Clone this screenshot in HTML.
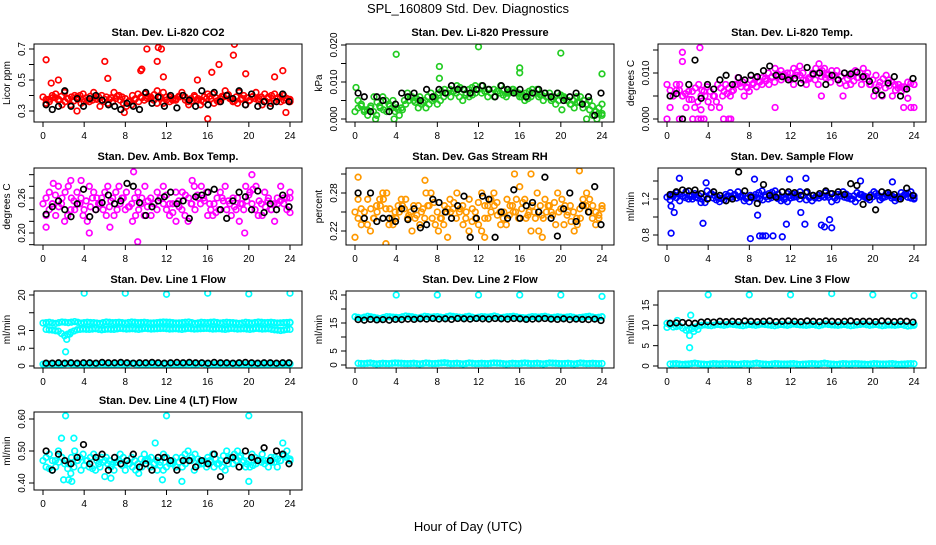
<!DOCTYPE html>
<html><head><meta charset="utf-8"><style>
body{margin:0;background:#fff}
svg text{font-family:"Liberation Sans",sans-serif;fill:#000}
.t{font-size:11px;font-weight:bold}
.k{font-size:10px}
</style></head><body>
<svg id="c" width="936" height="540" viewBox="0 0 936 540">
<text x="468" y="13" text-anchor="middle" font-size="13">SPL_160809  Std. Dev. Diagnostics</text>
<text x="468" y="531" text-anchor="middle" font-size="13">Hour of Day (UTC)</text>
</svg>
<script>
const xTicks=[0,4,8,12,16,20,24];
// ---- panel data ----
const co2A=[0.39,0.36,0.41,0.34,0.38,0.40,0.35,0.37,0.42,0.33,0.39,0.36,0.40,0.38,0.34,0.41,0.37,0.39,0.35,0.42,0.36,0.38,0.40,0.34,0.39,0.37,0.41,0.35,0.38,0.40,0.36,0.42,0.34,0.39,0.37,0.41,0.35,0.38,0.40,0.36];
const co2B=[0.35,0.40,0.37,0.42,0.34,0.39,0.41,0.36,0.38,0.40,0.35,0.42,0.37,0.33,0.40,0.36,0.41,0.38,0.43,0.35,0.39,0.37,0.42,0.36,0.40,0.34,0.38,0.41,0.36,0.43,0.38,0.35,0.40,0.37,0.42,0.34,0.39,0.41,0.36,0.38];
const co2Out=[[0.3,0.63],[6,0.62],[10.1,0.70],[11.2,0.71],[11.5,0.70],[11.1,0.62],[9.6,0.57],[18.6,0.73],[18.5,0.66],[23.3,0.56],[16,0.25],[17.1,0.6],[16.4,0.55],[6.3,0.51],[0.8,0.48],[1.5,0.50],[9.5,0.56],[19.7,0.54],[22.5,0.52],[23.6,0.29],[3.3,0.3],[7.9,0.29],[11.7,0.52],[15,0.5]];
const co2K=[0.34,0.31,0.33,0.43,0.33,0.38,0.33,0.38,0.40,0.37,0.34,0.33,0.31,0.35,0.33,0.31,0.42,0.35,0.39,0.33,0.40,0.32,0.40,0.37,0.33,0.43,0.34,0.42,0.36,0.40,0.38,0.43,0.34,0.41,0.33,0.36,0.33,0.36,0.41,0.36];
const prA=[0.002,0.004,0.001,0.006,0.003,0.002,0.005,0.001,0.004,0.006,0.003,0.005,0.007,0.004,0.006,0.008,0.007,0.005,0.008,0.009,0.007,0.008,0.006,0.009,0.007,0.008,0.006,0.007,0.008,0.006,0.007,0.005,0.007,0.006,0.004,0.006,0.003,0.005,0.002,0.001];
const prB=[0.005,0.002,0.003,0.001,0.006,0.004,0.002,0.003,0.007,0.005,0.006,0.003,0.005,0.007,0.008,0.006,0.009,0.008,0.006,0.007,0.009,0.006,0.008,0.007,0.006,0.008,0.007,0.005,0.006,0.008,0.005,0.007,0.004,0.006,0.005,0.003,0.006,0.004,0.001,0.003];
const prOut=[[0.1,0.0085],[4,0.0175],[8.2,0.0142],[8.2,0.0110],[12,0.0195],[16,0.0138],[16,0.0125],[20,0.0178],[24,0.0122],[2,0],[3.8,0],[22.5,0],[23.5,0],[20.1,0.0025]];
const prK=[0.007,0.006,0.002,0.006,0.005,0.002,0.004,0.007,0.006,0.007,0.005,0.008,0.006,0.008,0.007,0.009,0.008,0.008,0.007,0.008,0.009,0.008,0.006,0.009,0.008,0.007,0.008,0.006,0.007,0.008,0.007,0.006,0.007,0.005,0.006,0.007,0.004,0.006,0.001,0.007];
const tpA=[0.0075,0.005,0.0075,0.0025,0.006,0.0075,0.005,0.0025,0.0075,0.006,0.005,0.0075,0.008,0.006,0.009,0.0075,0.01,0.008,0.0105,0.009,0.011,0.0095,0.0075,0.01,0.012,0.009,0.0105,0.0085,0.01,0.0075,0.009,0.011,0.0075,0.0095,0.005,0.0085,0.0075,0.006,0.008,0.0075];
const tpB=[0.0025,0.0075,0.005,0.006,0.0025,0.005,0.007,0.005,0.0025,0.0075,0.006,0.009,0.005,0.0085,0.007,0.009,0.0075,0.011,0.0085,0.01,0.0075,0.0115,0.0085,0.0095,0.0075,0.011,0.008,0.0105,0.005,0.0095,0.0105,0.0075,0.01,0.005,0.008,0.0095,0.005,0.0075,0.0065,0.0025];
const tpOut=[[0,0],[1.2,0],[1.5,0],[2.5,0],[3,0],[3.3,0],[3.6,0],[5.5,0],[6,0],[6.2,0],[1.5,0.0145],[3.2,0.0155],[1.5,0.0125],[3.3,0.002],[23,0.0025],[10.5,0.0025],[15,0.005]];
const tpK=[0.005,0.0055,0.0,0.0075,0.0128,0.0045,0.0075,0.0065,0.0085,0.0095,0.0075,0.009,0.0085,0.0095,0.0092,0.0105,0.0115,0.0095,0.0092,0.0085,0.0088,0.0078,0.0112,0.0098,0.01,0.0075,0.0095,0.0085,0.01,0.0098,0.0102,0.0092,0.0082,0.0062,0.0052,0.0078,0.0092,0.005,0.0065,0.0088];
const abA=[0.25,0.27,0.23,0.26,0.28,0.24,0.26,0.22,0.27,0.25,0.23,0.26,0.28,0.24,0.25,0.27,0.23,0.26,0.24,0.28,0.25,0.22,0.27,0.26,0.24,0.28,0.23,0.25,0.27,0.24,0.26,0.22,0.28,0.25,0.23,0.27,0.24,0.26,0.25,0.27];
const abB=[0.23,0.25,0.28,0.22,0.24,0.27,0.23,0.28,0.24,0.26,0.28,0.23,0.25,0.27,0.22,0.24,0.28,0.23,0.27,0.25,0.23,0.27,0.24,0.22,0.28,0.25,0.27,0.23,0.24,0.28,0.23,0.26,0.24,0.27,0.28,0.23,0.26,0.22,0.28,0.24];
const abOut=[[0.3,0.21],[2.7,0.29],[3.7,0.29],[4.5,0.2],[8.8,0.305],[9.2,0.185],[14.5,0.29],[19.6,0.2],[20.3,0.3],[6.5,0.21],[1,0.285]];
const abK=[0.232,0.245,0.255,0.24,0.228,0.25,0.275,0.228,0.24,0.252,0.265,0.25,0.255,0.285,0.28,0.252,0.23,0.245,0.255,0.262,0.27,0.25,0.255,0.225,0.262,0.265,0.27,0.275,0.24,0.225,0.255,0.27,0.262,0.24,0.272,0.235,0.25,0.24,0.265,0.245];
const rhA=[0.25,0.23,0.27,0.24,0.26,0.28,0.23,0.25,0.27,0.22,0.26,0.24,0.28,0.25,0.23,0.27,0.24,0.26,0.22,0.25,0.28,0.24,0.26,0.23,0.27,0.25,0.29,0.24,0.26,0.22,0.27,0.25,0.28,0.23,0.26,0.24,0.27,0.25,0.23,0.26];
const rhB=[0.27,0.24,0.22,0.26,0.28,0.23,0.25,0.27,0.24,0.26,0.23,0.28,0.24,0.22,0.26,0.25,0.28,0.23,0.27,0.24,0.22,0.26,0.28,0.25,0.23,0.26,0.24,0.27,0.22,0.28,0.24,0.26,0.23,0.27,0.25,0.22,0.24,0.28,0.26,0.24];
const rhOut=[[0.3,0.305],[0,0.21],[3,0.20],[6.8,0.3],[12.6,0.21],[15.5,0.31],[17.1,0.31],[21.8,0.315],[9,0.21],[18.2,0.21]];
const rhK=[0.28,0.24,0.28,0.235,0.24,0.24,0.235,0.255,0.238,0.255,0.225,0.23,0.27,0.265,0.25,0.24,0.26,0.275,0.21,0.24,0.275,0.27,0.21,0.25,0.24,0.285,0.24,0.26,0.265,0.25,0.305,0.24,0.212,0.255,0.28,0.235,0.26,0.25,0.29,0.23];
const sfA=[1.22,1.25,1.18,1.28,1.2,1.24,1.16,1.26,1.22,1.19,1.27,1.21,1.24,1.17,1.25,1.29,1.2,1.23,1.18,1.26,1.22,1.28,1.19,1.24,1.21,1.27,1.17,1.25,1.22,1.2,1.27,1.23,1.19,1.26,1.21,1.24,1.18,1.27,1.22,1.2];
const sfB=[1.19,1.27,1.23,1.2,1.26,1.16,1.29,1.21,1.17,1.25,1.22,1.28,1.18,1.24,1.21,1.19,1.26,1.29,1.22,1.17,1.25,1.2,1.27,1.18,1.24,1.22,1.26,1.19,1.28,1.23,1.17,1.25,1.21,1.28,1.19,1.26,1.23,1.2,1.25,1.28];
const sfOut=[[0.4,0.82],[0.7,1.05],[3.5,0.93],[8.1,0.76],[9,0.79],[9.3,0.79],[9.6,0.79],[10.3,0.79],[11.2,0.78],[11.6,0.92],[13.4,0.92],[15,0.91],[15.3,0.89],[16,0.88],[15.8,0.97],[1.2,1.43],[3.8,1.38],[8.5,1.42],[11.9,1.42],[13.5,1.43],[18.8,1.4],[21.9,1.39],[8.8,1.02],[13,1.05],[0.4,1.12]];
const sfK=[1.25,1.28,1.3,1.29,1.3,1.26,1.2,1.28,1.24,1.18,1.2,1.5,1.29,1.22,1.15,1.36,1.24,1.22,1.28,1.28,1.27,1.24,1.28,1.24,1.26,1.29,1.26,1.28,1.25,1.37,1.35,1.14,1.22,1.08,1.28,1.27,1.25,1.2,1.32,1.24];
const l1A=[12.1,12.3,12.0,12.4,12.2,12.5,12.1,12.3,12.2,12.0,12.4,12.2,12.3,12.1,12.4,12.2,12.3,12.1,12.2,12.4,12.3,12.1,12.2,12.4,12.0,12.3,12.2,12.4,12.1,12.3,12.2,12.0,12.3,12.1,12.4,12.2,12.3,12.1,12.2,12.3];
const l1B=[10.3,10.1,9.8,8.5,9.5,10.2,10.4,10.3,10.5,10.2,10.4,10.3,10.6,10.4,10.5,10.3,10.6,10.4,10.5,10.6,10.4,10.5,10.3,10.6,10.4,10.5,10.6,10.4,10.5,10.3,10.6,10.4,10.5,10.3,10.6,10.4,10.5,10.2,10.0,10.3];
const l1Z=[0.5,0.6,0.4,0.5,0.7,0.5,0.4,0.6,0.5,0.6,0.5,0.4,0.6,0.5,0.7,0.5,0.4,0.6,0.5,0.5,0.6,0.4,0.5,0.6,0.5,0.7,0.5,0.4,0.6,0.5,0.6,0.5,0.4,0.6,0.5,0.5,0.6,0.4,0.5,0.6];
const l1Out=[[4,20.5],[8,20.5],[12,20.2],[16,20.5],[20,20.3],[24,20.5],[2.2,4],[2.3,7.5],[2.6,9],[0.2,0.3]];
const l1K=[0.8,0.8,0.9,0.8,0.9,0.8,0.9,0.9,0.8,1.0,0.9,0.9,1.0,0.9,0.8,0.9,0.9,1.0,0.9,0.8,0.9,1.0,0.9,1.0,0.9,0.9,0.8,1.0,0.9,0.9,0.8,0.9,1.0,0.9,0.8,0.9,0.9,0.8,0.9,0.9];
const l2A=[17.2,16.8,17.4,17.0,16.6,17.3,17.1,16.9,17.5,17.2,16.8,17.4,17.1,17.3,16.9,17.5,17.2,17.0,17.4,16.8,17.3,17.1,17.5,16.9,17.2,17.4,17.0,16.8,17.3,17.1,17.4,16.9,17.2,17.0,17.3,16.8,17.1,17.4,16.9,17.2];
const l2Z=[0.6,0.5,0.7,0.4,0.6,0.5,0.7,0.6,0.5,0.6,0.4,0.7,0.5,0.6,0.8,0.5,0.6,0.4,0.7,0.5,0.6,0.5,0.7,0.6,0.4,0.6,0.5,0.7,0.5,0.6,0.4,0.7,0.6,0.5,0.6,0.4,0.7,0.5,0.6,0.5];
const l2Out=[[4,25],[8,25],[12,25],[16,25],[20,25],[24,24.5]];
const l2K=[16.2,16.0,16.3,16.1,16.2,16.0,16.3,16.2,16.4,16.3,16.5,16.4,16.6,16.4,16.5,16.3,16.6,16.5,16.4,16.6,16.5,16.4,16.6,16.5,16.4,16.6,16.5,16.3,16.4,16.5,16.6,16.4,16.3,16.5,16.2,16.4,16.3,16.2,16.4,15.9];
const l3A=[10.5,9.6,9.8,8.8,9.2,9.9,10.1,9.9,10.2,10.0,10.3,10.1,9.9,10.2,10.0,10.3,10.1,9.9,10.2,10.0,10.3,10.1,10.0,10.2,9.9,10.3,10.1,10.0,10.2,9.9,10.1,10.3,10.0,10.2,9.9,10.1,10.0,10.2,9.8,10.0];
const l3Z=[0.5,0.6,0.4,0.5,0.7,0.5,0.4,0.6,0.5,0.6,0.5,0.4,0.6,0.5,0.7,0.5,0.4,0.6,0.5,0.5,0.6,0.4,0.5,0.6,0.5,0.7,0.5,0.4,0.6,0.5,0.6,0.5,0.4,0.6,0.5,0.5,0.6,0.4,0.5,0.6];
const l3Out=[[4,17.5],[8,17.5],[12,17.5],[16,17.8],[20,17.5],[24,17.3],[2.2,4.5],[2.2,7.5],[2.3,12.5],[2.6,8.5],[3,9],[0,9.5],[1.0,11.2]];
const l3K=[10.5,10.6,10.7,10.6,10.5,10.8,10.9,10.8,11.0,10.9,11.0,10.9,11.1,11.0,10.9,11.0,11.1,10.9,11.0,11.1,11.0,10.9,11.1,11.0,10.9,11.1,11.0,10.9,11.0,11.1,10.9,11.0,11.0,10.9,11.1,11.0,10.9,11.0,11.0,10.8];
const l4A=[0.47,0.49,0.45,0.48,0.46,0.50,0.44,0.47,0.49,0.45,0.48,0.46,0.47,0.44,0.48,0.46,0.49,0.45,0.47,0.44,0.46,0.48,0.45,0.47,0.49,0.46,0.48,0.45,0.47,0.50,0.46,0.48,0.45,0.49,0.47,0.46,0.48,0.45,0.49,0.47];
const l4B=[0.45,0.44,0.50,0.46,0.43,0.47,0.49,0.45,0.44,0.48,0.46,0.44,0.49,0.47,0.45,0.43,0.47,0.48,0.44,0.49,0.47,0.45,0.48,0.50,0.44,0.47,0.45,0.49,0.46,0.44,0.48,0.50,0.47,0.45,0.46,0.49,0.45,0.48,0.47,0.50];
const l4Out=[[2.2,0.61],[12,0.61],[20,0.61],[3,0.54],[1.8,0.54],[2.5,0.41],[2,0.41],[11.6,0.41],[13.5,0.405],[20,0.405],[6,0.42],[10.9,0.525],[23.3,0.525],[2.8,0.405],[6.6,0.415]];
const l4K=[0.50,0.44,0.49,0.47,0.46,0.48,0.52,0.46,0.48,0.49,0.44,0.48,0.46,0.47,0.49,0.45,0.46,0.44,0.48,0.48,0.47,0.44,0.47,0.47,0.45,0.47,0.46,0.49,0.42,0.47,0.48,0.45,0.50,0.48,0.47,0.51,0.47,0.50,0.49,0.46];
// ---- panel layout/axis config ----
const panels=[
 {name:'co2',title:'Stan. Dev. Li-820 CO2',yl:'Licor ppm',col:0,row:0,cal:[0.3,111,0.7,49],ticks:[0.3,0.4,0.5,0.6,0.7],labels:['0.3','','0.5','','0.7'],color:'#ff0000',bands:[co2A,co2B],out:co2Out,k:co2K},
 {name:'pressure',title:'Stan. Dev. Li-820 Pressure',yl:'kPa',col:1,row:0,cal:[0,119,0.02,45],ticks:[0,0.005,0.01,0.015,0.02],labels:['0.000','','0.010','','0.020'],color:'#22cc22',bands:[prA,prB],out:prOut,k:prK},
 {name:'temp',title:'Stan. Dev. Li-820 Temp.',yl:'degrees C',col:2,row:0,cal:[0,119,0.01,73],ticks:[0,0.005,0.01,0.015],labels:['0.000','','0.010',''],color:'#ff00ff',bands:[tpA,tpB],out:tpOut,k:tpK},
 {name:'amb-box-temp',title:'Stan. Dev. Amb. Box Temp.',yl:'degrees C',col:0,row:1,cal:[0.2,233,0.26,198],ticks:[0.18,0.2,0.22,0.24,0.26,0.28,0.3],labels:['','0.20','','','0.26','',''],color:'#ff00ff',bands:[abA,abB],out:abOut,k:abK},
 {name:'gas-rh',title:'Stan. Dev. Gas Stream RH',yl:'percent',col:1,row:1,cal:[0.22,231,0.28,193],ticks:[0.22,0.25,0.28,0.31],labels:['0.22','','0.28',''],color:'#ff9900',bands:[rhA,rhB],out:rhOut,k:rhK},
 {name:'sample-flow',title:'Stan. Dev. Sample Flow',yl:'ml/min',col:2,row:1,cal:[0.8,235,1.2,199],ticks:[0.8,1.0,1.2,1.4],labels:['0.8','','1.2',''],color:'#0000ff',bands:[sfA,sfB],out:sfOut,k:sfK},
 {name:'line1-flow',title:'Stan. Dev. Line 1 Flow',yl:'ml/min',col:0,row:2,cal:[0,366,20,295],ticks:[0,5,10,15,20],labels:['0','5','10','','20'],color:'#00ffff',bands:[l1A,l1B,l1Z],out:l1Out,k:l1K},
 {name:'line2-flow',title:'Stan. Dev. Line 2 Flow',yl:'ml/min',col:1,row:2,cal:[0,365,25,295],ticks:[0,5,10,15,20,25],labels:['0','5','','15','','25'],color:'#00ffff',bands:[l2A,l2Z],out:l2Out,k:l2K},
 {name:'line3-flow',title:'Stan. Dev. Line 3 Flow',yl:'ml/min',col:2,row:2,cal:[0,366,15,305],ticks:[0,5,10,15],labels:['0','5','10','15'],color:'#00ffff',bands:[l3A,l3Z],out:l3Out,k:l3K},
 {name:'line4-flow',title:'Stan. Dev. Line 4 (LT) Flow',yl:'ml/min',col:0,row:3,cal:[0.4,483,0.6,419],ticks:[0.4,0.5,0.6],labels:['0.40','0.50','0.60'],color:'#00ffff',bands:[l4A,l4B],out:l4Out,k:l4K}
];
const colL=[34,346,658], rowT=[44,168,291,412], rowB=[122,245,368,490];
const NS='http://www.w3.org/2000/svg';
const svg=document.getElementById('c');
function mk(tag,attrs,parent){const e=document.createElementNS(NS,tag);for(const a in attrs)e.setAttribute(a,attrs[a]);(parent||svg).appendChild(e);return e;}
panels.forEach(p=>{
 const L=colL[p.col],R=L+268,T=rowT[p.row],B=rowB[p.row];
 const g=mk('g',{});
 
 
 const xs=t=>L+9+t*247/24;
 const sl=(p.cal[3]-p.cal[1])/(p.cal[2]-p.cal[0]);
 const ys=v=>p.cal[1]+(v-p.cal[0])*sl;
 const clip=mk('clipPath',{id:'cp'+p.name},g);mk('rect',{x:L,y:T,width:268,height:B-T},clip);
 const pts=mk('g',{'clip-path':'url(#cp'+p.name+')'},g);
 const circ=(t,v,c,nm)=>{const e=mk('circle',{cx:xs(t).toFixed(1),cy:ys(v).toFixed(1),r:2.8,fill:'none',stroke:c,'stroke-width':1.7},pts);
  
  };
 p.bands.forEach((arr,bi)=>{const n=arr.length;arr.forEach((v,i)=>{const t=bi%2===0?i*24/(n-1):(i+0.5)*24/n;circ(t,v,p.color,'point');circ(Math.min(24,t+0.3),v+(arr[(i+1)%n]-v)*0.5,p.color,'point');});});
 p.out.forEach(o=>circ(o[0],o[1],p.color,'outlier-point'));
 p.k.forEach((v,i)=>circ(0.3+i*23.6/(p.k.length-1),v,'#000','hourly-point'));
 const box=mk('rect',{x:L,y:T,width:268,height:B-T,fill:'none',stroke:'#000','stroke-width':1},g);
 
 
 const tt=mk('text',{x:L+134,y:T-8,'text-anchor':'middle',class:'t'},g);tt.textContent=p.title;
 
 
 mk('line',{x1:xs(0),x2:xs(24),y1:B,y2:B,stroke:'#000'},g);
 xTicks.forEach(t=>{mk('line',{x1:xs(t),x2:xs(t),y1:B,y2:B+5,stroke:'#000'},g);
  const lb=mk('text',{x:xs(t),y:B+17,'text-anchor':'middle',class:'k'},g);lb.textContent=t;
  
  });
 p.ticks.forEach((v,i)=>{const y=ys(v);if(y<T-2||y>B+2)return;mk('line',{x1:L-5,x2:L,y1:y,y2:y,stroke:'#000'},g);
  if(p.labels[i]){const lb=mk('text',{x:L-9,y:y,'text-anchor':'middle',class:'k',transform:`rotate(-90 ${L-9} ${y})`},g);lb.textContent=p.labels[i];
  
  }});
 const ya=mk('text',{x:L-24,y:(T+B)/2,'text-anchor':'middle',class:'k',transform:`rotate(-90 ${L-24} ${(T+B)/2})`},g);ya.textContent=p.yl;
 
 
});
</script>
</body></html>
